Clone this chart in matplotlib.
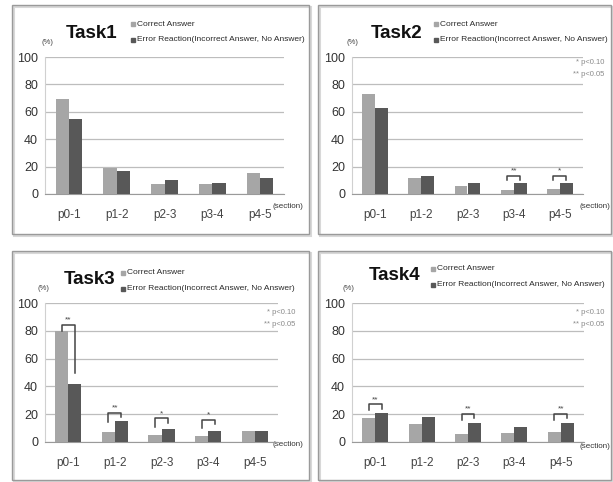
import matplotlib.pyplot as plt
from matplotlib.patches import Rectangle
import numpy as np

# section labels and rates (%) per task
sections = ['p0-1', 'p1-2', 'p2-3', 'p3-4', 'p4-5']
tasks = ['Task1', 'Task2', 'Task3', 'Task4']

correct = {
    'Task1': [69, 19, 7, 7, 15],
    'Task2': [73, 12, 6, 3, 4],
    'Task3': [80, 7, 5, 4, 8],
    'Task4': [17, 13, 6, 6.5, 7],
}
error = {
    'Task1': [55, 17, 10, 8, 12],
    'Task2': [63, 13, 8, 8, 8],
    'Task3': [42, 15, 9, 8, 8],
    'Task4': [21, 18, 14, 11, 14],
}

# significance brackets: (section index, stars, top, left leg end, right leg end)
sig = {
    'Task1': [],
    'Task2': [(3, '**', 13.5, 10, 10), (4, '*', 13.5, 10, 10)],
    'Task3': [(0, '**', 84, 80, 50), (1, '**', 21, 14.5, 18),
              (2, '*', 17, 11, 14), (3, '*', 16, 10, 13)],
    'Task4': [(0, '**', 27, 23, 24), (2, '**', 20, 16, 17), (4, '**', 20, 16, 17)],
}

W, H = 613, 482
c_correct = '#a6a6a6'
c_error = '#585858'
font = ['Liberation Sans', 'DejaVu Sans']
plt.rcParams['font.family'] = font

fig = plt.figure(figsize=(W / 100, H / 100), dpi=100)
fig.patch.set_facecolor('white')

# overlay in pixel coordinates for frames and free text
bg = fig.add_axes([0, 0, 1, 1])
bg.set_xlim(0, W)
bg.set_ylim(H, 0)
bg.axis('off')

# per panel layout in pixels: frame, plot box, and text anchors
layout = {
    'Task1': dict(frame=(12, 5, 297, 229), box=(45, 57, 284, 194), title=(92, 33),
                  leg=(133, 24), pct=(47, 42), sec=(303, 207), note=None),
    'Task2': dict(frame=(318, 5, 293, 229), box=(352, 57, 583, 194), title=(397, 33),
                  leg=(436, 24), pct=(352, 43), sec=(610, 207), note=(604, 62)),
    'Task3': dict(frame=(12, 251, 297, 229), box=(45, 303, 278, 442), title=(90, 280),
                  leg=(123, 273), pct=(43, 288), sec=(303, 444), note=(295, 312)),
    'Task4': dict(frame=(318, 251, 293, 229), box=(352, 303, 584, 442), title=(395, 275),
                  leg=(433, 269), pct=(348, 288), sec=(610, 447), note=(604, 312)),
}

x = np.arange(len(sections))
bw = 0.28

for t in tasks:
    L = layout[t]
    fx, fy, fw, fh = L['frame']
    bg.add_patch(Rectangle((fx + 1.5, fy + 1.5), fw, fh, fill=False, ec='#d8d8d8', lw=1.5))
    bg.add_patch(Rectangle((fx, fy), fw, fh, fill=False, ec='#9a9a9a', lw=1.0))

    x0, y0, x1, y1 = L['box']
    ax = fig.add_axes([x0 / W, 1 - y1 / H, (x1 - x0) / W, (y1 - y0) / H])
    ax.set_facecolor('none')
    ax.bar(x - bw / 2, correct[t], bw, color=c_correct, zorder=3)
    ax.bar(x + bw / 2, error[t], bw, color=c_error, zorder=3)
    ax.set_xlim(-0.5, len(sections) - 0.5)
    ax.set_ylim(0, 100)
    ax.set_yticks(range(0, 101, 20))
    ax.yaxis.grid(True, color='#bdbdbd', lw=0.9, zorder=0)
    ax.set_xticks(x)
    ax.set_xticklabels(sections)
    ax.tick_params(axis='x', length=0, labelsize=8.5, colors='#444444', pad=11)
    ax.tick_params(axis='y', length=0, labelsize=9, colors='#333333', pad=5)
    for s in ['top', 'right']:
        ax.spines[s].set_visible(False)
    ax.spines['bottom'].set_color('#9a9a9a')
    ax.spines['left'].set_color('#d0d0d0')

    for i, stars, top, lb, rb in sig[t]:
        xl, xr = i - bw / 2, i + bw / 2
        ax.plot([xl, xl, xr, xr], [lb, top, top, rb], color='#444444', lw=1.1, zorder=4)
        ax.text(i, top + 1, stars, ha='center', va='bottom', fontsize=6, color='#444444')

    tx, ty = L['title']
    bg.text(tx, ty, t, ha='center', va='center', fontsize=13.5, fontweight='bold',
            color='#111111')

    lx, ly = L['leg']
    for k, (lab, col) in enumerate([('Correct Answer', c_correct),
                                     ('Error Reaction(Incorrect Answer, No Answer)', c_error)]):
        yy = ly + k * 15.5
        bg.add_patch(Rectangle((lx - 2, yy - 2), 4, 4, color=col))
        bg.text(lx + 4, yy, lab, ha='left', va='center', fontsize=6.0, color='#2a2a2a')

    px, py = L['pct']
    bg.text(px, py, '(%)', ha='center', va='center', fontsize=5.5, color='#444444')
    sx, sy = L['sec']
    bg.text(sx, sy, '(section)', ha='right', va='center', fontsize=5.8, color='#333333')
    if L['note']:
        nx, ny = L['note']
        bg.text(nx, ny, '* p<0.10', ha='right', va='center', fontsize=5.5, color='#8a8a8a')
        bg.text(nx, ny + 12, '** p<0.05', ha='right', va='center', fontsize=5.5, color='#8a8a8a')

fig.savefig('out.png', dpi=100)
